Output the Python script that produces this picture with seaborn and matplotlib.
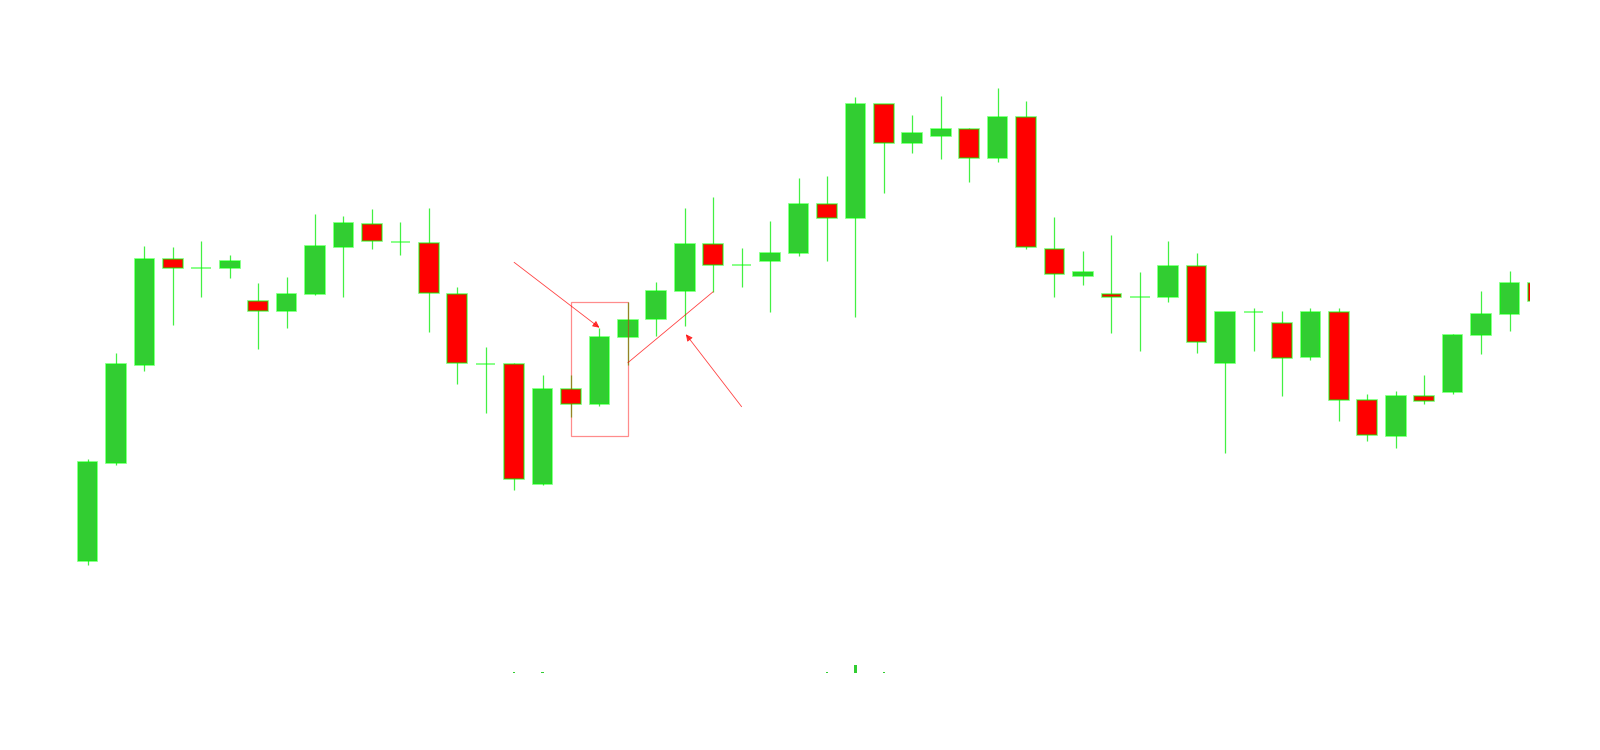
import numpy as np
import pandas as pd
import matplotlib
matplotlib.use('Agg')
import matplotlib.pyplot as plt
import matplotlib.patches as mpatches
import seaborn as sns

# ============================================================================
# DATA (price units)
# ============================================================================
opens = [189.3, 287.3, 385.3, 490.7, 481.7, 482.0, 449.3, 439.3, 456.3, 503.3,
         525.7, 508.3, 506.7, 456.0, 386.3, 386.0, 266.3, 361.3, 346.3, 413.3,
         430.7, 459.3, 506.0, 484.7, 489.3, 496.7, 545.7, 532.3, 646.0, 606.7,
         614.3, 620.7, 592.3, 633.0, 500.7, 474.0, 455.7, 453.3, 453.0, 484.0,
         387.3, 437.7, 426.7, 392.7, 437.7, 349.7, 314.3, 354.3, 358.0, 414.7,
         436.3, 467.3]
closes = [287.7, 385.7, 491.0, 482.3, 481.7, 489.3, 438.7, 455.7, 504.3, 526.7,
          509.0, 507.7, 456.7, 386.7, 386.3, 271.0, 361.3, 345.7, 413.0, 430.0,
          459.3, 506.3, 485.0, 484.7, 496.7, 546.0, 531.7, 646.0, 606.7, 616.7,
          621.0, 592.3, 633.0, 502.7, 475.7, 478.0, 453.3, 453.3, 484.0, 407.7,
          437.7, 437.7, 392.0, 437.7, 350.0, 314.7, 354.3, 349.3, 415.0, 436.0,
          467.3, 448.7]
highs = [291.3, 396.7, 504.0, 503.0, 509.0, 495.0, 467.3, 472.7, 536.0, 534.0,
         541.0, 527.7, 542.0, 462.7, 403.3, 387.3, 375.0, 375.0, 422.3, 448.3,
         468.0, 541.7, 552.7, 501.7, 529.3, 572.0, 574.0, 653.0, 646.0, 635.3,
         654.0, 622.0, 662.0, 649.3, 533.3, 498.7, 515.3, 478.3, 509.0, 497.0,
         437.7, 442.3, 439.0, 441.7, 442.3, 356.3, 359.0, 375.0, 416.0, 458.7,
         479.0, 475.0]
lows = [185.3, 285.0, 379.0, 425.0, 452.7, 472.0, 401.0, 421.7, 455.0, 452.7,
        500.7, 495.3, 418.0, 366.3, 336.7, 260.0, 265.0, 333.3, 344.3, 385.0,
        414.3, 424.3, 458.3, 462.7, 438.3, 494.3, 489.0, 433.3, 557.3, 597.0,
        591.0, 568.3, 587.7, 500.7, 453.3, 465.3, 417.0, 399.3, 448.3, 397.3,
        297.3, 399.3, 354.3, 389.7, 329.0, 309.0, 302.3, 345.7, 356.0, 396.0,
        419.3, 440.0]
# tiny volume ticks at the bottom
volumes = [0, 0, 0, 0, 0, 0, 0, 0, 0, 0, 0, 0, 0, 0, 0, 1, 1, 0, 0, 0,
           0, 0, 0, 0, 0, 0, 1, 8, 1, 0, 0, 0, 0, 0, 0, 0, 0, 0, 0, 0,
           0, 0, 0, 0, 0, 0, 0, 0, 0, 0, 0, 0]

df = pd.DataFrame({'open': opens, 'high': highs, 'low': lows,
                   'close': closes, 'volume': volumes})
df['x'] = np.arange(len(df))
df['up'] = df['close'] >= df['open']

# ============================================================================
# STYLE
# ============================================================================
UP_COLOR = '#32cd32'
DOWN_COLOR = '#ff0000'
EDGE_COLOR = (0.0, 1.0, 0.0, 0.55)
WICK_COLOR = '#22ee22'
NOTE_COLOR = 'red'
BODY_WIDTH = 0.69
VOLUME_BASE = 77.0

sns.set_theme(style='white')

fig = plt.figure(figsize=(16, 7.5), dpi=100)
ax = fig.add_axes([0, 0, 1530 / 1600, 1])

# wicks
ax.vlines(df['x'], df['low'], df['high'], color=WICK_COLOR, lw=0.9,
          alpha=0.85, zorder=1)

# bodies
body_bottom = np.minimum(df['open'], df['close'])
body_height = np.abs(df['close'] - df['open'])
colors = np.where(df['up'], UP_COLOR, DOWN_COLOR)
ax.bar(df['x'], body_height, bottom=body_bottom, width=BODY_WIDTH,
       color=colors, edgecolor=EDGE_COLOR, linewidth=1.2, zorder=2)

# volume ticks
vol = df[df['volume'] > 0]
ax.bar(vol['x'], vol['volume'], bottom=VOLUME_BASE, width=0.08,
       color=UP_COLOR, linewidth=0, zorder=2)

# ============================================================================
# Annotations
# ============================================================================
rect = mpatches.Rectangle((17, 314.3), 2, 134.0, fill=False,
                          edgecolor=NOTE_COLOR, lw=0.9, alpha=0.45, zorder=3)
ax.add_patch(rect)

arrow_kw = dict(arrowstyle='-|>', color=NOTE_COLOR, lw=0.6, alpha=0.75,
                mutation_scale=10, shrinkA=0, shrinkB=0)
ax.annotate('', xy=(18, 422.3), xytext=(15.0, 487.7),
            arrowprops=arrow_kw, zorder=4)
ax.annotate('', xy=(21.04, 415.7), xytext=(23.0, 343.3),
            arrowprops=arrow_kw, zorder=4)
ax.plot([19, 22], [387.3, 458.3], color=NOTE_COLOR, lw=0.6, alpha=0.75, zorder=4)

ax.set_xlim(-87.5 / 28.44, (1530 - 87.5) / 28.44)
ax.set_ylim(0, 750)
ax.axis('off')
sns.despine(ax=ax, left=True, bottom=True)

fig.savefig('out.png', dpi=100, facecolor='white')
